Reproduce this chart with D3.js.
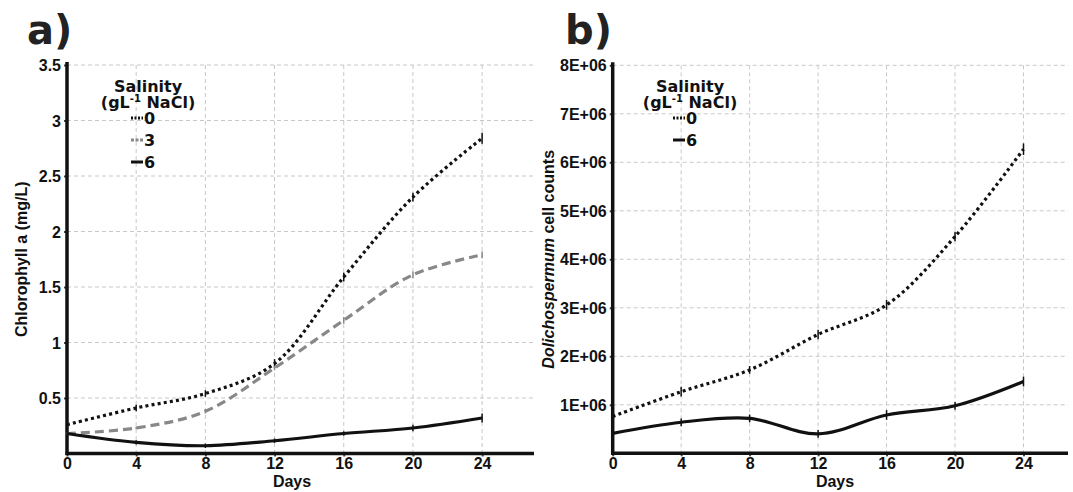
<!DOCTYPE html>
<html>
<head>
<meta charset="utf-8">
<script src="https://cdn.jsdelivr.net/npm/d3@7"></script>
<style>
  body { margin: 0; background: #fff; }
  svg { display: block; }
  .tick-lab { font-family: "Liberation Sans", Arial, sans-serif; font-weight: bold; font-size: 16px; fill: #111; }
  .ax-title { font-family: "Liberation Sans", Arial, sans-serif; font-weight: bold; font-size: 16px; fill: #111; }
  .leg { font-family: "DejaVu Sans", sans-serif; font-weight: bold; font-size: 16px; fill: #111; }
  .panel-lab { font-family: "DejaVu Sans", sans-serif; font-weight: bold; font-size: 40px; fill: #222; }
</style>
</head>
<body>
<svg id="chart" width="1073" height="492"></svg>
<script>
// sampling days
var days = [0, 4, 8, 12, 16, 20, 24];
var dayTicks = [0, 4, 8, 12, 16, 20, 24];

// a) chlorophyll a (mg/L) per salinity
var chlTicks = [0.5, 1, 1.5, 2, 2.5, 3, 3.5];
var chl0 = [0.26, 0.41, 0.54, 0.81, 1.59, 2.31, 2.84];
var chl3 = [0.18, 0.23, 0.38, 0.77, 1.20, 1.61, 1.79];
var chl6 = [0.18, 0.10, 0.07, 0.115, 0.18, 0.23, 0.32];
var chlErr0 = [0.02, 0.03, 0.03, 0.04, 0.04, 0.04, 0.05];
var chlErr3 = [0.01, 0.01, 0.02, 0.02, 0.03, 0.03, 0.03];
var chlErr6 = [0.01, 0.02, 0.02, 0.02, 0.02, 0.03, 0.04];

// b) Dolichospermum cell counts per salinity
var cellTicks = [1e6, 2e6, 3e6, 4e6, 5e6, 6e6, 7e6, 8e6];
var cells0 = [0.76e6, 1.27e6, 1.72e6, 2.45e6, 3.06e6, 4.47e6, 6.27e6];
var cells6 = [0.41e6, 0.64e6, 0.72e6, 0.40e6, 0.79e6, 0.98e6, 1.48e6];
var cellErr0 = [0.05e6, 0.1e6, 0.08e6, 0.1e6, 0.1e6, 0.1e6, 0.12e6];
var cellErr6 = [0.04e6, 0.08e6, 0.08e6, 0.08e6, 0.1e6, 0.08e6, 0.1e6];

var styles = {
  "0": { color: "#111", width: 3.2, dash: "3,3.2" },
  "3": { color: "#888", width: 3.2, dash: "9,5" },
  "6": { color: "#111", width: 3.2, dash: null }
};

var svg = d3.select("#chart");

function drawPanel(opt) {
  var g = svg.append("g");
  var x = d3.scaleLinear().domain([0, opt.xMax]).range([opt.left, opt.right]);
  var y = d3.scaleLinear().domain([0, opt.yMax]).range([opt.bottom, opt.top]);

  // grid
  g.append("g").selectAll("line").data(opt.yTicks).join("line")
    .attr("x1", opt.left).attr("x2", opt.right)
    .attr("y1", function (d) { return y(d); }).attr("y2", function (d) { return y(d); })
    .attr("stroke", "#c8c8c8").attr("stroke-width", 1).attr("stroke-dasharray", "4,3");
  g.append("g").selectAll("line").data(dayTicks).join("line")
    .attr("x1", function (d) { return x(d); }).attr("x2", function (d) { return x(d); })
    .attr("y1", opt.top).attr("y2", opt.bottom)
    .attr("stroke", "#c8c8c8").attr("stroke-width", 1).attr("stroke-dasharray", "4,3");

  // axes
  var yAxis = d3.axisLeft(y).tickValues(opt.yTicks).tickSize(3).tickPadding(3).tickFormat(opt.fmt);
  var yg = g.append("g").attr("transform", "translate(" + opt.left + ",0)").call(yAxis);
  yg.select(".domain").remove();
  yg.selectAll(".tick line").attr("stroke", "#444").attr("stroke-width", 2);
  yg.selectAll(".tick text").attr("class", "tick-lab").attr("dy", "0.35em");

  var xAxis = d3.axisBottom(x).tickValues(dayTicks).tickSize(3).tickPadding(1);
  var xg = g.append("g").attr("transform", "translate(0," + opt.bottom + ")").call(xAxis);
  xg.select(".domain").remove();
  xg.selectAll(".tick line").attr("stroke", "#444").attr("stroke-width", 2);
  xg.selectAll(".tick text").attr("class", "tick-lab");

  g.append("line").attr("x1", opt.left).attr("x2", opt.left)
    .attr("y1", opt.top - 3).attr("y2", opt.bottom + 1.5)
    .attr("stroke", "#111").attr("stroke-width", 3.5);
  g.append("line").attr("x1", opt.left - 1.5).attr("x2", opt.right)
    .attr("y1", opt.bottom).attr("y2", opt.bottom)
    .attr("stroke", "#111").attr("stroke-width", 3.5);

  // series
  var line = d3.line()
    .x(function (d, i) { return x(days[i]); })
    .y(function (d) { return y(d); })
    .curve(d3.curveCatmullRom.alpha(0.5));

  opt.series.forEach(function (s) {
    var st = styles[s.key];
    g.append("path").datum(s.values)
      .attr("d", line).attr("fill", "none")
      .attr("stroke", st.color).attr("stroke-width", st.width)
      .attr("stroke-dasharray", st.dash);
    g.append("g").selectAll("line").data(s.values).join("line")
      .attr("x1", function (d, i) { return x(days[i]); })
      .attr("x2", function (d, i) { return x(days[i]); })
      .attr("y1", function (d, i) { return y(d - s.err[i]); })
      .attr("y2", function (d, i) { return y(d + s.err[i]); })
      .attr("stroke", st.color).attr("stroke-width", 1.5);
  });

  // axis titles
  g.append("text").attr("class", "ax-title")
    .attr("x", opt.daysX).attr("y", 487).attr("text-anchor", "middle").text("Days");
  var yt = g.append("text").attr("class", "ax-title")
    .attr("transform", "translate(" + opt.yTitleX + "," + ((opt.top + opt.bottom) / 2) + ") rotate(-90)")
    .attr("text-anchor", "middle");
  opt.yTitle.forEach(function (p) {
    yt.append("tspan").attr("font-style", p.italic ? "italic" : "normal").text(p.t);
  });

  // panel label
  g.append("text").attr("class", "panel-lab")
    .attr("x", opt.labelX).attr("y", 44).text(opt.label);

  // legend
  var lg = g.append("g").attr("transform", "translate(" + opt.legX + ",0)");
  lg.append("text").attr("class", "leg").attr("x", 0).attr("y", 92)
    .attr("text-anchor", "middle").text("Salinity");
  var t2 = lg.append("text").attr("class", "leg").attr("x", 0).attr("y", 108)
    .attr("text-anchor", "middle");
  t2.append("tspan").text("(gL");
  t2.append("tspan").attr("font-size", "10px").attr("dy", "-6").text("-1");
  t2.append("tspan").attr("dy", "6").text(" NaCl)");
  opt.series.forEach(function (s, i) {
    var st = styles[s.key];
    var cy = 118 + i * 22;
    lg.append("line").attr("x1", -17).attr("x2", -5).attr("y1", cy).attr("y2", cy)
      .attr("stroke", st.color).attr("stroke-width", 3)
      .attr("stroke-dasharray", st.dash ? (s.key === "0" ? "2,1.5" : "3,1.5") : null);
    lg.append("text").attr("class", "leg").attr("x", -4).attr("y", cy + 6).text(s.key);
  });
}

drawPanel({
  left: 67, right: 534, top: 65, bottom: 453.5,
  xMax: 27, yMax: 3.5, yTicks: chlTicks,
  fmt: function (d) { return String(d); },
  series: [
    { key: "0", values: chl0, err: chlErr0 },
    { key: "3", values: chl3, err: chlErr3 },
    { key: "6", values: chl6, err: chlErr6 }
  ],
  daysX: 292, yTitleX: 27,
  yTitle: [{ t: "Chlorophyll a (mg/L)", italic: false }],
  label: "a)", labelX: 27, legX: 148
});

drawPanel({
  left: 612.7, right: 1068, top: 65.3, bottom: 453.3,
  xMax: 26.6, yMax: 8e6, yTicks: cellTicks,
  fmt: function (d) { return (d / 1e6) + "E+06"; },
  series: [
    { key: "0", values: cells0, err: cellErr0 },
    { key: "6", values: cells6, err: cellErr6 }
  ],
  daysX: 835, yTitleX: 554,
  yTitle: [{ t: "Dolichospermum", italic: true }, { t: " cell counts", italic: false }],
  label: "b)", labelX: 565, legX: 690
});
</script>
</body>
</html>
